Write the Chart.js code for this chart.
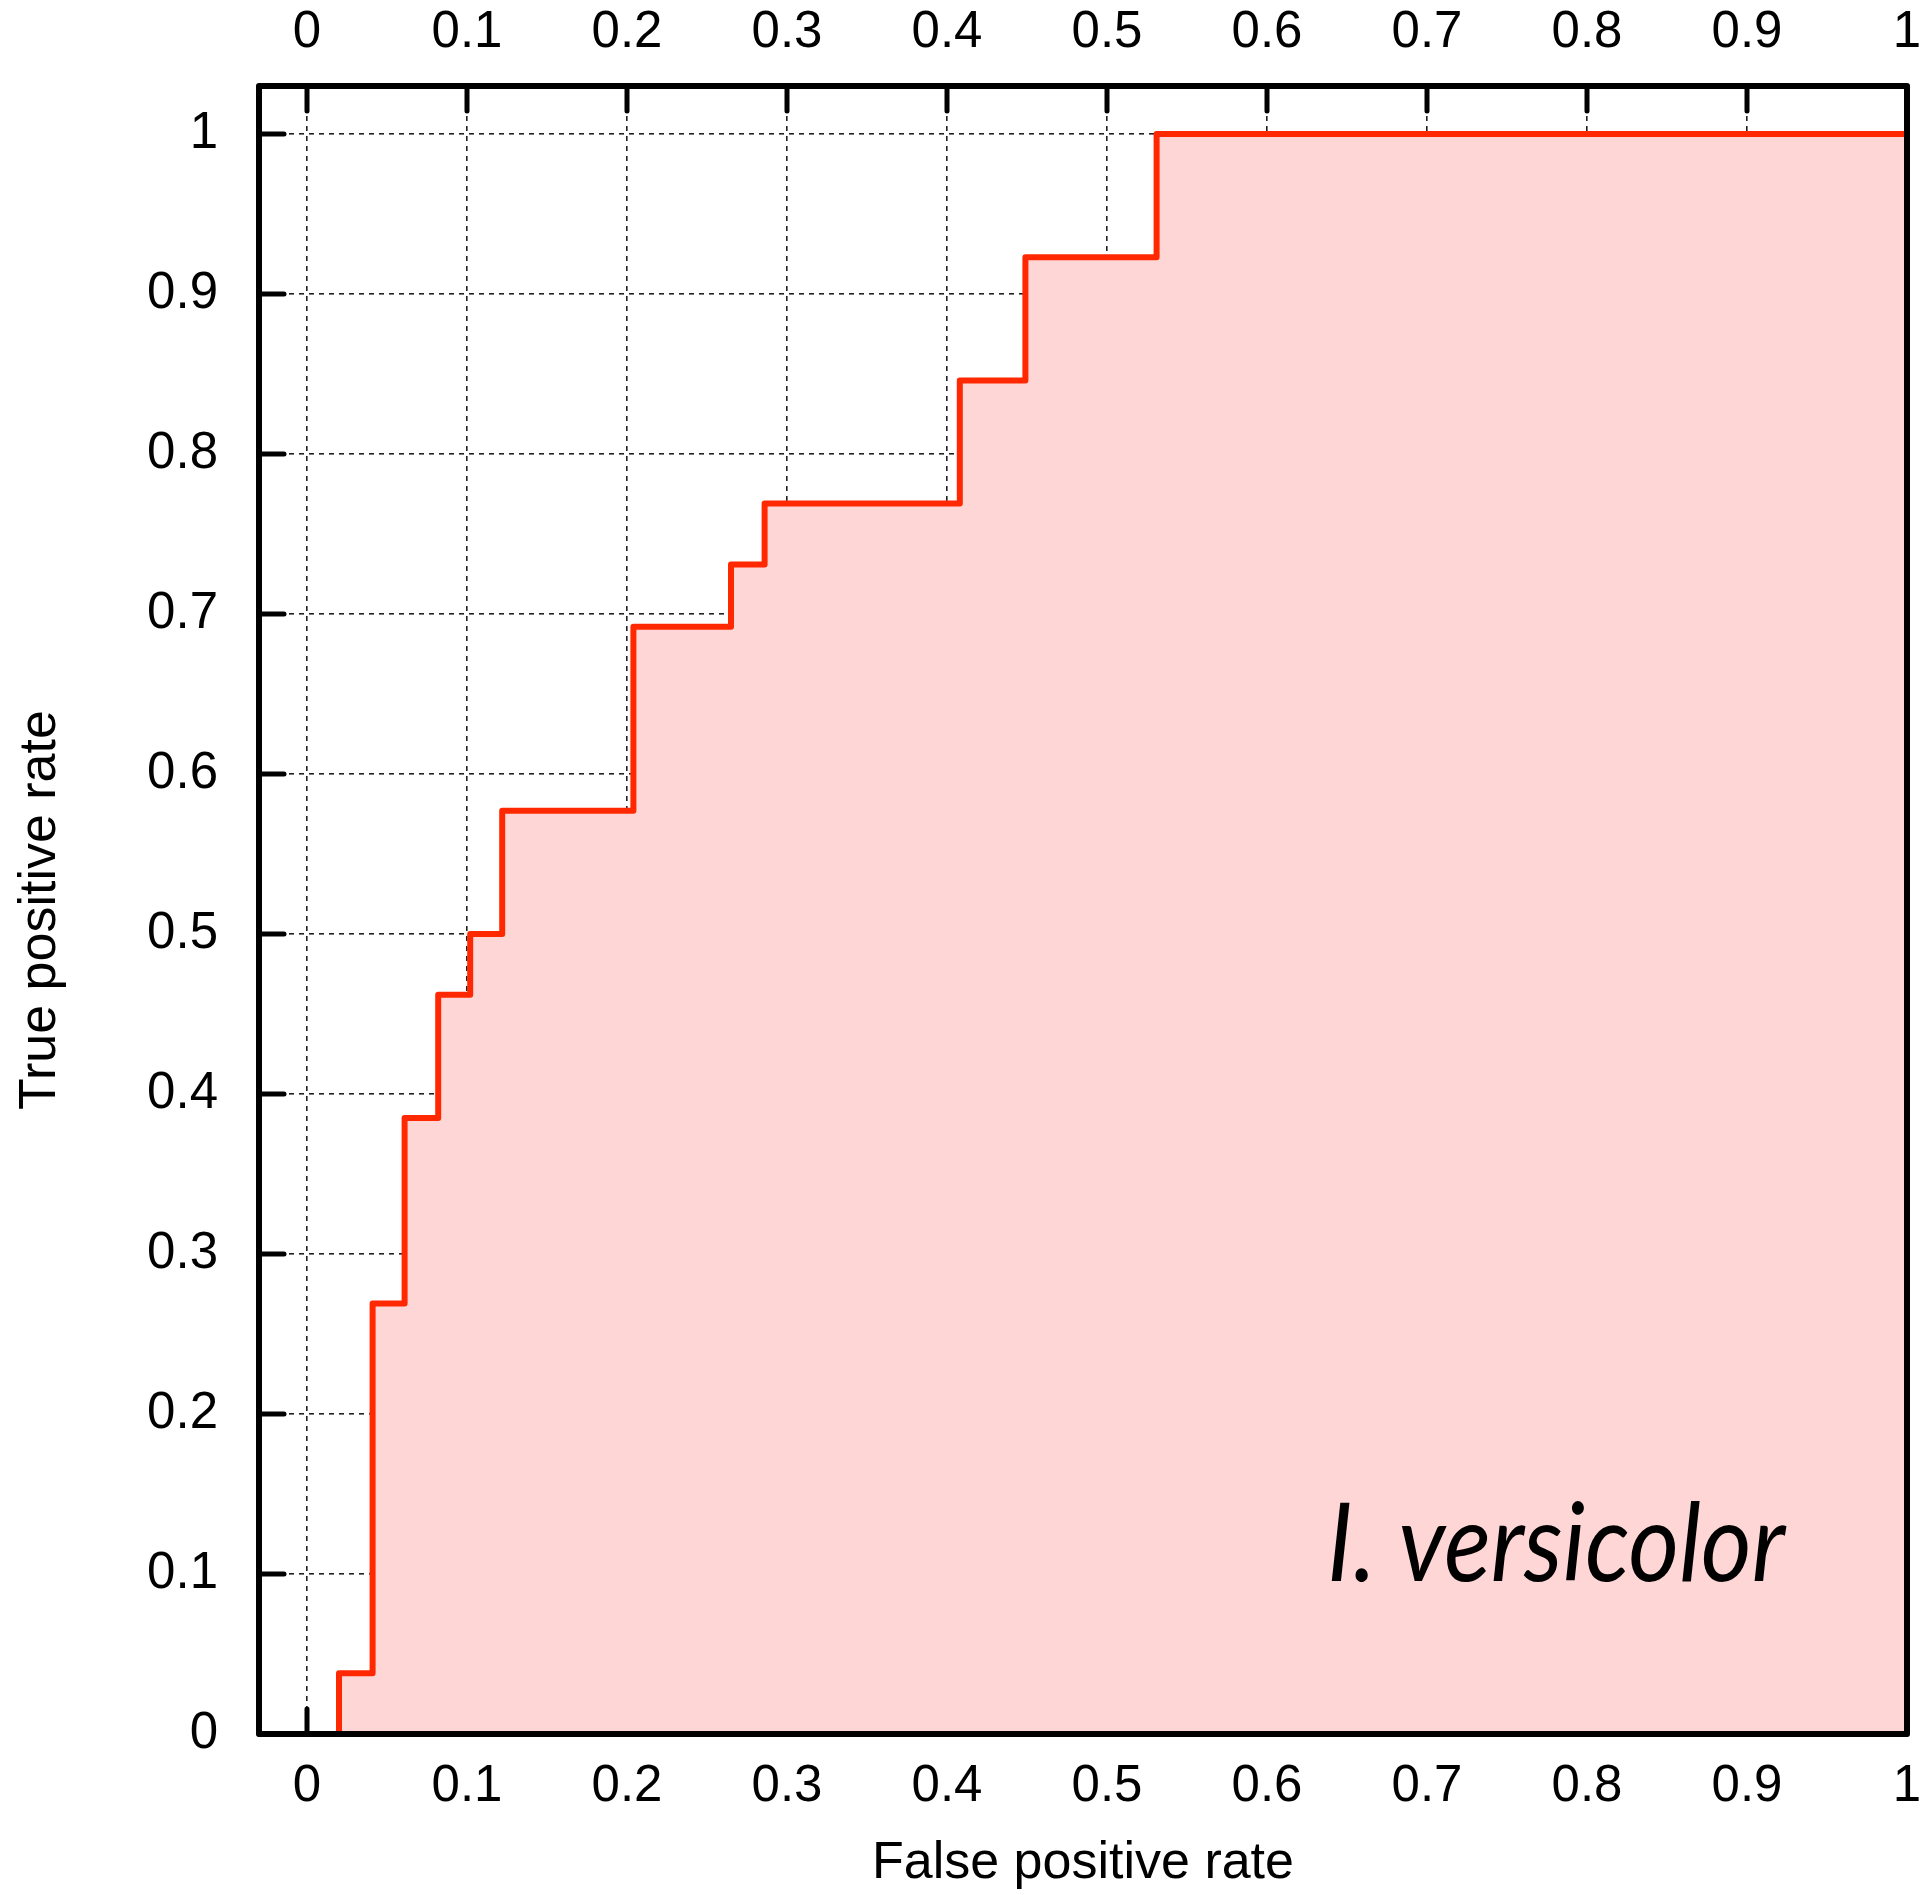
<!DOCTYPE html>
<html lang="en">
<head>
<meta charset="UTF-8">
<title>ROC - I. versicolor</title>
<script src="https://cdn.jsdelivr.net/npm/chart.js"></script>
<style>
  body { margin: 0; background: #fff; }
</style>
</head>
<body>
<canvas id="roc" width="1932" height="1895"></canvas>
<script>
// ROC curve points (false positive rate, true positive rate)
const fpr = [0, 0.020, 0.041, 0.061, 0.082, 0.102, 0.122, 0.204, 0.265, 0.286, 0.408, 0.449, 0.531, 1.0];
const tpr = [0, 0.038, 0.269, 0.385, 0.462, 0.500, 0.577, 0.692, 0.731, 0.769, 0.846, 0.923, 1.0, 1.0];

const xTicks = [0, 0.1, 0.2, 0.3, 0.4, 0.5, 0.6, 0.7, 0.8, 0.9, 1];
const yTicks = [0, 0.1, 0.2, 0.3, 0.4, 0.5, 0.6, 0.7, 0.8, 0.9, 1];
const speciesLabel = 'I. versicolor';

Chart.defaults.font.family = '"Liberation Sans", Arial, sans-serif';
Chart.defaults.color = '#000';

const tickFont = { size: 51 };
const titleFont = { size: 52 };

// inward tick marks on all four sides (drawn under the fill) + frame and label on top
const frameTicks = {
  id: 'frameTicks',
  beforeDatasetsDraw(chart) {
    const { ctx, chartArea: a, scales: { x, y } } = chart;
    ctx.save();
    ctx.strokeStyle = '#000';
    ctx.lineWidth = 5;
    ctx.lineCap = 'round';
    ctx.beginPath();
    xTicks.forEach(v => {
      const px = x.getPixelForValue(v);
      ctx.moveTo(px, a.top); ctx.lineTo(px, a.top + 25);
      ctx.moveTo(px, a.bottom); ctx.lineTo(px, a.bottom - 25);
    });
    yTicks.forEach(v => {
      const py = y.getPixelForValue(v);
      ctx.moveTo(a.left, py); ctx.lineTo(a.left + 25, py);
      ctx.moveTo(a.right, py); ctx.lineTo(a.right - 25, py);
    });
    ctx.stroke();
    ctx.restore();
  },
  afterDatasetsDraw(chart) {
    const { ctx, chartArea: a } = chart;
    ctx.save();
    ctx.strokeStyle = '#000';
    ctx.lineWidth = 6;
    ctx.lineJoin = 'round';
    ctx.strokeRect(a.left, a.top, a.right - a.left, a.bottom - a.top);

    // species name, squeezed to the width it has in the figure
    ctx.font = 'italic 108px Lato, "Open Sans", sans-serif';
    ctx.fillStyle = '#000';
    ctx.textBaseline = 'alphabetic';
    const w = ctx.measureText(speciesLabel).width;
    const targetW = 458;
    ctx.translate(a.right - 122 - targetW, a.bottom - 153);
    ctx.scale(targetW / w, 1);
    ctx.fillText(speciesLabel, 0, 0);
    ctx.restore();
  }
};

const noSidePadding = s => { s.paddingLeft = 0; s.paddingRight = 0; };

const ctx = document.getElementById('roc').getContext('2d');
const myChart = new Chart(ctx, {
  type: 'line',
  data: {
    datasets: [{
      data: fpr.map((v, i) => ({ x: v, y: tpr[i] })),
      stepped: 'before',
      borderColor: '#ff2800',
      borderWidth: 6,
      borderJoinStyle: 'round',
      backgroundColor: 'rgb(255, 214, 214)',
      fill: 'origin',
      pointRadius: 0
    }]
  },
  options: {
    responsive: false,
    animation: false,
    layout: { padding: { top: 0, right: 25, bottom: 0, left: 0 } },
    plugins: {
      legend: { display: false },
      tooltip: { enabled: false }
    },
    scales: {
      x: {
        type: 'linear',
        position: 'bottom',
        min: -0.03,
        max: 1,
        afterBuildTicks: s => { s.ticks = xTicks.map(v => ({ value: v })); },
        afterFit: s => { s.height = 161; noSidePadding(s); },
        ticks: { font: tickFont, padding: 22, maxRotation: 0, autoSkip: false, callback: v => String(v) },
        grid: { color: '#222', lineWidth: 1.6, drawTicks: false },
        border: { display: false, dash: [5, 5] },
        title: { display: true, text: 'False positive rate', font: titleFont, padding: { top: 0, bottom: 0 } }
      },
      xTop: {
        type: 'linear',
        position: 'top',
        min: -0.03,
        max: 1,
        afterBuildTicks: s => { s.ticks = xTicks.map(v => ({ value: v })); },
        afterFit: s => { s.height = 86; noSidePadding(s); },
        ticks: { font: tickFont, padding: 22, maxRotation: 0, autoSkip: false, callback: v => String(v) },
        grid: { display: false, drawTicks: false },
        border: { display: false }
      },
      y: {
        type: 'linear',
        position: 'left',
        min: 0,
        max: 1.03,
        afterBuildTicks: s => { s.ticks = yTicks.map(v => ({ value: v })); },
        afterFit: s => { s.width = 259; s.paddingTop = 0; s.paddingBottom = 0; },
        ticks: { font: tickFont, padding: 41, autoSkip: false, callback: v => String(v) },
        grid: { color: '#222', lineWidth: 1.6, drawTicks: false },
        border: { display: false, dash: [5, 5] },
        title: { display: true, text: 'True positive rate', font: titleFont, padding: { top: 9, bottom: 0 } }
      }
    }
  },
  plugins: [frameTicks]
});
</script>
</body>
</html>
